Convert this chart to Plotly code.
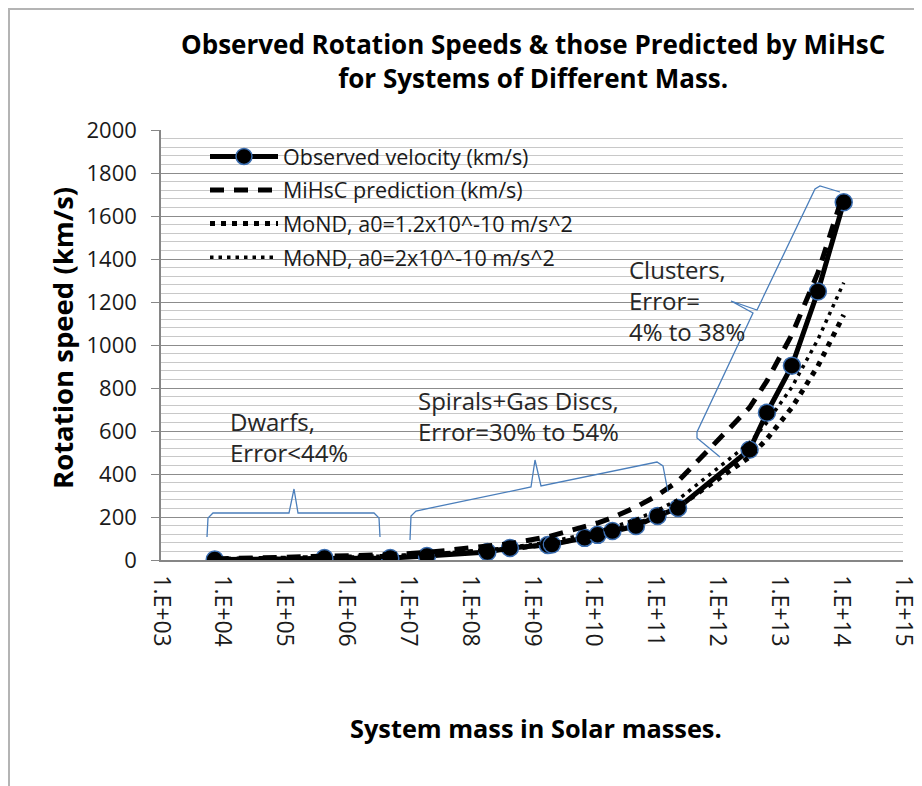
import plotly.graph_objects as go

# ---- data ----
mass = [7.4e3, 4.4e5, 5.1e6, 2.0e7, 1.9e8, 4.4e8, 1.8e9, 2.1e9, 7.1e9, 1.15e10,
        2.0e10, 4.8e10, 1.07e11, 2.3e11, 3.3e12, 6.3e12, 1.6e13, 4.2e13, 1.1e14]
observed = [2, 9, 9, 19, 37, 56, 70, 72, 103, 117, 135, 158, 205, 242, 513, 685, 904, 1249, 1664]
mihsc = [5, 14, 25, 35, 62, 76, 108, 113, 152, 172, 197, 246, 301, 366, 709, 833, 1049, 1335, 1710]
mond_12 = [3, 9, 17, 24, 42, 51, 73, 76, 103, 116, 134, 166, 203, 247, 479, 563, 709, 902, 1140]
mond_2 = [4, 10, 19, 27, 47, 58, 83, 87, 117, 132, 152, 189, 231, 281, 544, 640, 805, 1025, 1290]

x_tickvals = [10 ** e for e in range(3, 16)]
x_ticktext = ["1.E+%02d" % e for e in range(3, 16)]

series_names = ["Observed velocity (km/s)", "MiHsC prediction (km/s)",
                "MoND, a0=1.2x10^-10 m/s^2", "MoND, a0=2x10^-10 m/s^2"]

FONT = "Open Sans"
OFF = 8                      # page body margin
W, H = 922 - OFF, 786 - OFF
PLOT_L, PLOT_R, PLOT_T, PLOT_B = 161, 903, 130, 560   # page pixels of plot area
L, T = PLOT_L - OFF, PLOT_T - OFF
R, B = W - (PLOT_R - OFF), H - (PLOT_B - OFF)
PW, PH = W - L - R, H - T - B


def px(xp, yp):
    """page pixel position -> paper coordinates"""
    return (xp - PLOT_L) / PW, (PLOT_B - yp) / PH


def path(points):
    s = ""
    for i, (a, b) in enumerate(points):
        x, y = px(a, b)
        s += ("M" if i == 0 else "L") + f"{x:.5f},{y:.5f} "
    return s.strip()


fig = go.Figure()
fig.add_trace(go.Scatter(
    x=mass, y=observed, name=series_names[0], mode="lines+markers",
    line=dict(color="black", width=5),
    marker=dict(symbol="circle", size=17, color="black",
                line=dict(color="#3a6db0", width=1.5)),
    legendgroup="a"))
fig.add_trace(go.Scatter(
    x=mass, y=mihsc, name=series_names[1], mode="lines",
    line=dict(color="black", width=5, dash="14px,10px"), legendgroup="b"))
fig.add_trace(go.Scatter(
    x=mass, y=mond_12, name=series_names[2], mode="lines",
    line=dict(color="black", width=5, dash="5px,6px"), legendgroup="c"))
fig.add_trace(go.Scatter(
    x=mass, y=mond_2, name=series_names[3], mode="lines",
    line=dict(color="black", width=3.5, dash="3.5px,5px"), legendgroup="d"))

blue = "#4a7ebb"
shapes = []
# chart frame
fx0, fy0 = px(9, 9)
fx1, fy1 = px(990, 830)
shapes.append(dict(type="rect", xref="paper", yref="paper", x0=fx0, y0=fy1, x1=fx1, y1=fy0,
                   line=dict(color="#b4b4b4", width=2), layer="below"))
# braces
braces = [
    [(207, 537), (208, 518), (213, 513), (289, 513), (294, 489), (298, 513), (374, 513), (379, 518), (380, 537)],
    [(410, 540), (411, 516), (416, 511), (531, 487), (535, 460), (541, 486), (657, 462), (663, 466), (668, 492)],
    [(720, 457), (697, 438), (697, 432), (753, 313), (731, 301), (757, 310), (815, 189), (820, 186), (840, 192)],
]
for b in braces:
    shapes.append(dict(type="path", xref="paper", yref="paper", path=path(b),
                       line=dict(color=blue, width=1.3), layer="above"))

annotations = []
texts = [
    ("Dwarfs,<br>Error<44%", 228, 437),
    ("Spirals+Gas Discs,<br>Error=30% to 54%", 416, 416),
    ("Clusters,<br>Error=<br>4% to 38%", 627, 300),
]
for t, xp, yp in texts:
    ax, ay = px(xp, yp)
    annotations.append(dict(text=t, x=ax, y=ay, xref="paper", yref="paper",
                            xanchor="left", yanchor="middle", align="left", showarrow=False,
                            font=dict(family=FONT, size=24, color="#262626")))

tx, ty = px(533, 61)
annotations.append(dict(
    text="<b>Observed Rotation Speeds & those Predicted by MiHsC<br>for Systems of Different Mass.</b>",
    x=tx, y=ty, xref="paper", yref="paper", xanchor="center", yanchor="middle",
    showarrow=False, font=dict(family=FONT, size=26, color="black")))

yx, yy = px(62, 338)
annotations.append(dict(
    text="<b>Rotation speed (km/s)</b>", x=yx, y=yy, xref="paper", yref="paper",
    xanchor="center", yanchor="middle", textangle=-90, showarrow=False,
    font=dict(family=FONT, size=27.5, color="black")))
xx, xy = px(536, 728)
annotations.append(dict(
    text="<b>System mass in Solar masses.</b>", x=xx, y=xy, xref="paper", yref="paper",
    xanchor="center", yanchor="middle", showarrow=False,
    font=dict(family=FONT, size=25.3, color="black")))

fig.update_layout(
    width=W, height=H,
    margin=dict(l=L, r=R, t=T, b=B, autoexpand=False),
    paper_bgcolor="white", plot_bgcolor="white",
    font=dict(family=FONT, color="#1a1a1a"),
    shapes=shapes, annotations=annotations,
    showlegend=True,
    legend=dict(x=px(205, 0)[0], y=px(0, 136)[1], xanchor="left", yanchor="top",
                bgcolor="rgba(0,0,0,0)", font=dict(family=FONT, size=21.5, color="#1a1a1a"),
                traceorder="grouped", tracegroupgap=2.6, itemwidth=68),
    xaxis=dict(type="log", range=[3, 15], tickvals=x_tickvals, ticktext=x_ticktext,
               tickangle=90, tickfont=dict(family=FONT, size=23, color="#1a1a1a"),
               ticklabelstandoff=9, automargin=False,
               showgrid=False, zeroline=False, showline=True, linecolor="#868686", linewidth=1.5,
               ticks=""),
    yaxis=dict(range=[0, 2000], dtick=200, tickfont=dict(family=FONT, size=22, color="#1a1a1a"),
               ticklabelstandoff=10, automargin=False,
               showgrid=True, gridcolor="#8c8c8c", gridwidth=1.2, zeroline=False,
               showline=True, linecolor="#868686", linewidth=1.5,
               ticks="outside", ticklen=8, tickcolor="#868686",
               minor=dict(dtick=40, showgrid=True, gridcolor="#c8c8c8", gridwidth=1)),
)

fig.write_html("out.html")
